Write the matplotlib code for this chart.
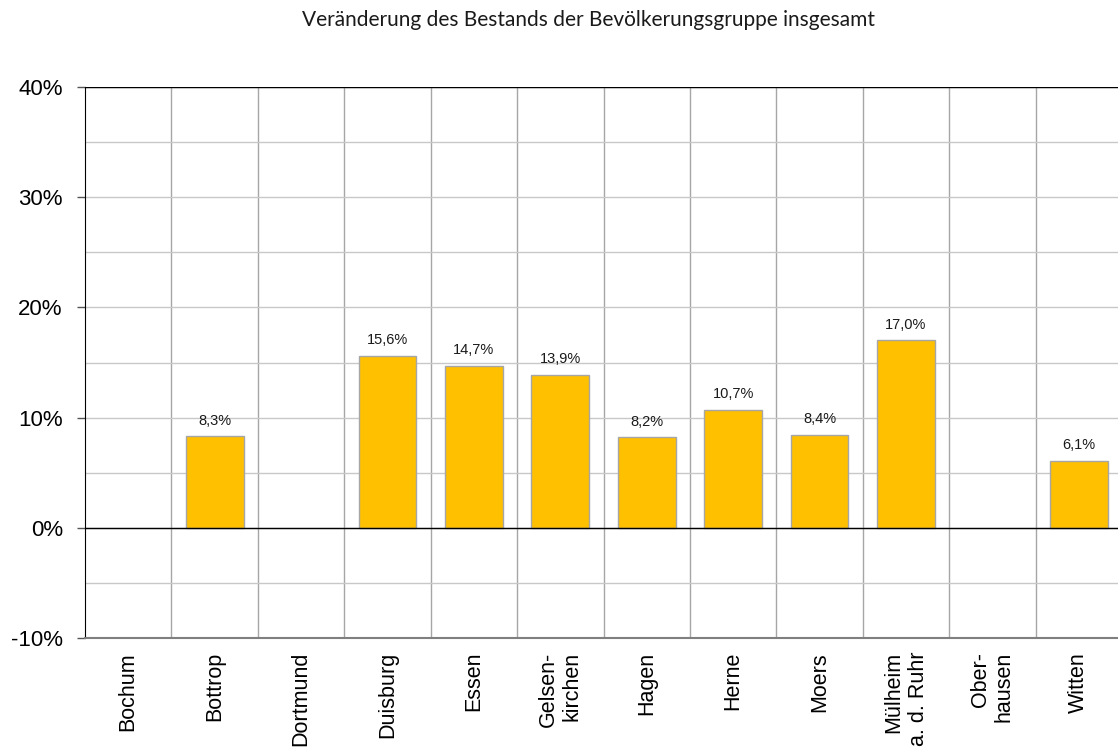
import numpy as np
import matplotlib
matplotlib.use("Agg")
import matplotlib.pyplot as plt
from matplotlib.ticker import MultipleLocator, FixedLocator

staedte = ['Bochum', 'Bottrop', 'Dortmund', 'Duisburg', 'Essen', 'Gelsen-\nkirchen',
           'Hagen', 'Herne', 'Moers', 'Mülheim\na. d. Ruhr', 'Ober-\nhausen', 'Witten']
# Veraenderung in Prozent, leer = keine Angabe
veraenderung = [np.nan, 8.3, np.nan, 15.6, 14.7, 13.9, 8.2, 10.7, 8.4, 17.0, np.nan, 6.1]
y_ticks = [-10, 0, 10, 20, 30, 40]
y_labels = ['-10%', '0%', '10%', '20%', '30%', '40%']

plt.rcParams['font.family'] = ['Liberation Sans', 'DejaVu Sans']

fig = plt.figure(figsize=(11.18, 7.55), dpi=100)
ax = fig.add_axes([85 / 1118, 1 - 638 / 755, 1037 / 1118, 551 / 755])

x = np.arange(len(staedte))
werte = np.array(veraenderung)
ok = ~np.isnan(werte)
bars = ax.bar(x[ok], werte[ok], width=0.67, color='#FFC000', edgecolor='#A6A6A6',
              linewidth=1, zorder=3)

for xi, v in zip(x[ok], werte[ok]):
    ax.text(xi, v + 0.8, f"{v:.1f}%".replace('.', ','), ha='center', va='bottom',
            fontsize=10.5, color='#1a1a1a', zorder=4)

ax.set_xlim(-0.5, len(staedte) - 0.5)
ax.set_ylim(-10, 40)

# gitter
ax.yaxis.set_minor_locator(MultipleLocator(5))
ax.set_yticks(y_ticks)
ax.set_yticklabels(y_labels, fontsize=16)
ax.grid(axis='y', which='both', color='#c8c8c8', linewidth=1, zorder=0)
ax.xaxis.set_minor_locator(FixedLocator(np.arange(0.5, len(staedte) - 0.5, 1)))
ax.grid(axis='x', which='minor', color='#a6a6a6', linewidth=1, zorder=0)
ax.axhline(0, color='black', linewidth=1, zorder=4)
ax.axhline(40, color='black', linewidth=1, zorder=4)

ax.set_xticks(x)
ax.set_xticklabels(staedte, rotation=90, fontsize=15.5, multialignment='right')
ax.tick_params(axis='x', which='both', length=0, pad=10)
ax.tick_params(axis='y', which='major', length=6, width=1, color='#555555', pad=10)
ax.tick_params(axis='y', which='minor', length=0)

for s in ['top', 'right']:
    ax.spines[s].set_visible(False)
ax.spines['left'].set_color('black')
ax.spines['bottom'].set_color('#7f7f7f')
ax.spines['bottom'].set_linewidth(1.5)

fig.text(588 / 1118, 1 - 20 / 755, 'Veränderung des Bestands der Bevölkerungsgruppe insgesamt',
         ha='center', va='center', fontsize=15, family=['Lato', 'DejaVu Sans'], color='#1a1a1a')

fig.savefig('out.png', dpi=100)
